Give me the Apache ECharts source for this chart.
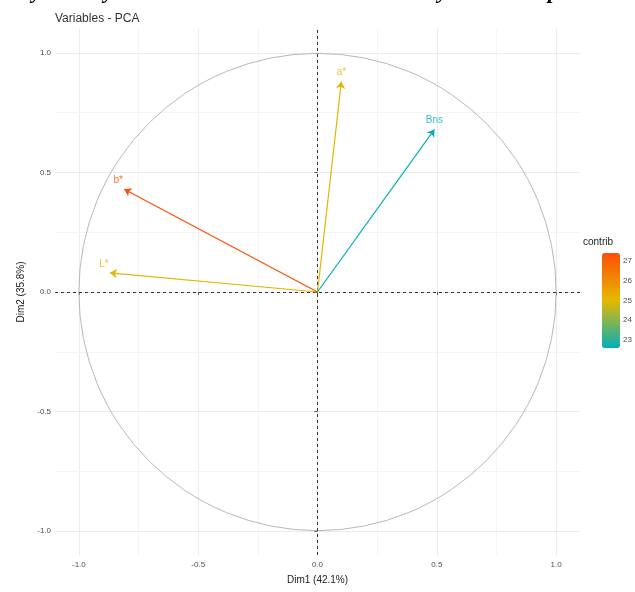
<!DOCTYPE html>
<html>
<head>
<meta charset="utf-8">
<script src="https://cdn.jsdelivr.net/npm/echarts@6/dist/echarts.min.js"></script>
<style>
html,body{margin:0;padding:0;background:#fff;}
#chart{width:635px;height:592px;}
</style>
</head>
<body>
<div id="chart"></div>
<script>
// ---- data ----
const variables = ['L*', 'a*', 'b*', 'Bns'];
const dim1 = [-0.87, 0.10, -0.81, 0.49];
const dim2 = [0.08, 0.88, 0.43, 0.68];
const contrib = [24.9, 25.1, 27.4, 22.6];
const axisTicks = [-1, -0.5, 0, 0.5, 1];
const minorTicks = [-0.75, -0.25, 0.25, 0.75];
const contribTicks = [23, 24, 25, 26, 27];
const palette = ['#00AFBB', '#E7B800', '#FC4E07'];
const captionGlyphs = ['y', 'y', 'y', 'p'];

const cMin = Math.min.apply(null, contrib);
const cMax = Math.max.apply(null, contrib);
const colorOf = c => echarts.color.lerp((c - cMin) / (cMax - cMin), palette);

const FONT = '"Liberation Sans", Arial, sans-serif';
const chart = echarts.init(document.getElementById('chart'));

const gridLines = [];
axisTicks.forEach(v => {
  gridLines.push({xAxis: v, lineStyle: {color: '#ebebeb', width: 1, type: 'solid'}});
  gridLines.push({yAxis: v, lineStyle: {color: '#ebebeb', width: 1, type: 'solid'}});
});
minorTicks.forEach(v => {
  gridLines.push({xAxis: v, lineStyle: {color: '#f4f4f4', width: 1, type: 'solid'}});
  gridLines.push({yAxis: v, lineStyle: {color: '#f4f4f4', width: 1, type: 'solid'}});
});

const captionX = [32, 104, 438, 548];

chart.setOption({
  animation: false,
  backgroundColor: '#fff',
  title: {
    text: 'Variables - PCA',
    left: 50, top: 8,
    textStyle: {fontFamily: FONT, fontSize: 12, fontWeight: 'normal', color: '#333'}
  },
  graphic: captionGlyphs.map((g, i) => ({
    type: 'text', left: captionX[i], top: -19,
    style: {text: g, font: 'italic bold 22px "Liberation Serif", "Times New Roman", serif', fill: '#000'}
  })).concat([{
    type: 'text', left: 583, top: 237,
    style: {text: 'contrib', font: '10px ' + FONT, fill: '#222'}
  }]),
  grid: [
    {left: 55, right: 55, top: 29, bottom: 37},
    {left: 602, width: 18, top: 253, height: 95}
  ],
  xAxis: [{
    type: 'value', gridIndex: 0, min: -1.1, max: 1.1,
    name: 'Dim1 (42.1%)', nameLocation: 'middle', nameGap: 20,
    nameTextStyle: {fontFamily: FONT, fontSize: 10, color: '#222'},
    axisLine: {show: false},
    axisTick: {show: true, length: 3, lineStyle: {color: '#555'}, customValues: axisTicks},
    axisLabel: {fontFamily: FONT, fontSize: 8, color: '#4d4d4d', margin: 6,
      customValues: axisTicks, formatter: v => v.toFixed(1)},
    splitLine: {show: false}
  }, {
    type: 'value', gridIndex: 1, min: 0, max: 1, show: false
  }],
  yAxis: [{
    type: 'value', gridIndex: 0, min: -1.1, max: 1.1,
    name: 'Dim2 (35.8%)', nameLocation: 'middle', nameGap: 26, nameRotate: 90,
    nameTextStyle: {fontFamily: FONT, fontSize: 10, color: '#222'},
    axisLine: {show: false},
    axisTick: {show: true, length: 3, lineStyle: {color: '#555'}, customValues: axisTicks},
    axisLabel: {fontFamily: FONT, fontSize: 8, color: '#4d4d4d', margin: 4,
      customValues: axisTicks, formatter: v => v.toFixed(1)},
    splitLine: {show: false}
  }, {
    type: 'value', gridIndex: 1, min: cMin, max: cMax, position: 'right',
    axisLine: {show: false},
    axisTick: {show: true, inside: true, length: 4, lineStyle: {color: '#fff'}, customValues: contribTicks},
    axisLabel: {fontFamily: FONT, fontSize: 8, color: '#4d4d4d', margin: 5, customValues: contribTicks},
    splitLine: {show: false}
  }],
  visualMap: {
    type: 'continuous', min: cMin, max: cMax, seriesIndex: 3, dimension: 2,
    inRange: {color: palette}, calculable: false, text: null,
    left: 602, top: 253, itemWidth: 18, itemHeight: 95, padding: 0,
    showLabel: false, z: 1
  },
  series: [
    {
      type: 'scatter', xAxisIndex: 0, yAxisIndex: 0, data: [[0, 0]], symbolSize: 0, z: 0, silent: true,
      markLine: {silent: true, z: 0, symbol: 'none', label: {show: false}, data: gridLines, animation: false}
    },
    {
      type: 'custom', xAxisIndex: 0, yAxisIndex: 0, data: [[0, 0]], z: 2, silent: true,
      renderItem: (params, api) => {
        const c = api.coord([api.value(0), api.value(1)]);
        const r = api.size([1, 1]);
        return {type: 'circle', shape: {cx: c[0], cy: c[1], r: r[0]},
          style: {fill: 'none', stroke: '#b8b8b8', lineWidth: 1}};
      },
      markLine: {silent: true, z: 3, symbol: 'none', label: {show: false}, animation: false,
        lineStyle: {color: '#333', width: 1, type: [3, 3]},
        data: [{xAxis: 0}, {yAxis: 0}]}
    },
    {
      type: 'lines', coordinateSystem: 'cartesian2d', xAxisIndex: 0, yAxisIndex: 0, z: 10,
      symbol: ['none', 'arrow'], symbolSize: 7, silent: true,
      lineStyle: {width: 1.2, opacity: 1},
      data: variables.map((v, i) => ({
        coords: [[0, 0], [dim1[i], dim2[i]]],
        lineStyle: {color: colorOf(contrib[i])}
      }))
    },
    {
      type: 'scatter', xAxisIndex: 0, yAxisIndex: 0, symbolSize: 0, z: 11, silent: true,
      data: variables.map((v, i) => ({
        name: v, value: [dim1[i], dim2[i], contrib[i]],
        label: {show: true, position: 'top', distance: 4, formatter: '{b}',
          color: colorOf(contrib[i]), fontFamily: FONT, fontSize: 10,
          offset: dim1[i] < 0 ? [-6, 0] : [0, 0]}
      }))
    }
  ]
});
</script>
</body>
</html>
